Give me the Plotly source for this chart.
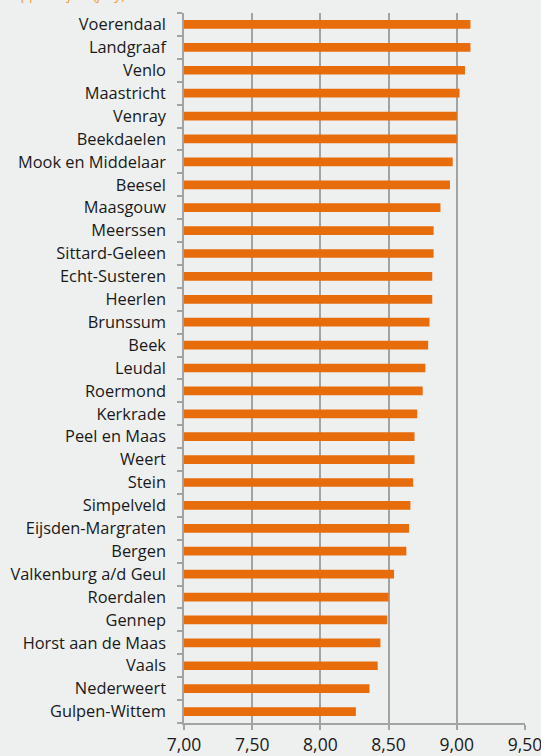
import plotly.graph_objects as go

gemeenten = [
    "Voerendaal", "Landgraaf", "Venlo", "Maastricht", "Venray", "Beekdaelen",
    "Mook en Middelaar", "Beesel", "Maasgouw", "Meerssen", "Sittard-Geleen",
    "Echt-Susteren", "Heerlen", "Brunssum", "Beek", "Leudal", "Roermond",
    "Kerkrade", "Peel en Maas", "Weert", "Stein", "Simpelveld",
    "Eijsden-Margraten", "Bergen", "Valkenburg a/d Geul", "Roerdalen",
    "Gennep", "Horst aan de Maas", "Vaals", "Nederweert", "Gulpen-Wittem",
]
scores = [
    9.10, 9.10, 9.06, 9.02, 9.00, 9.00,
    8.97, 8.95, 8.88, 8.83, 8.83,
    8.82, 8.82, 8.80, 8.79, 8.77, 8.75,
    8.71, 8.69, 8.69, 8.68, 8.66,
    8.65, 8.63, 8.54, 8.50,
    8.49, 8.44, 8.42, 8.36, 8.26,
]
x_ticks = [7.0, 7.5, 8.0, 8.5, 9.0, 9.5]
titel = "Rapportcijfer (jury)"

BG = "#EEF0EF"
ORANGE = "#E76C0B"
GRID = "#A3A3A3"

fig = go.Figure(
    go.Bar(
        x=scores,
        y=gemeenten,
        orientation="h",
        marker=dict(color=ORANGE, line=dict(width=0)),
        hoverinfo="skip",
    )
)

fig.update_layout(
    width=541,
    height=756,
    paper_bgcolor=BG,
    plot_bgcolor=BG,
    margin=dict(l=184, r=16, t=13, b=33, autoexpand=False),
    bargap=0.62,
    showlegend=False,
    separators=",.",
    font=dict(family="Open Sans", size=16, color="#1A1A1A"),
)

fig.update_xaxes(
    range=[7.0, 9.5],
    tickvals=x_ticks,
    tickformat=".2f",
    automargin=False,
    ticklabeloverflow="allow",
    showgrid=True,
    gridcolor=GRID,
    gridwidth=1.5,
    showline=True,
    linecolor=GRID,
    linewidth=1.5,
    ticks="outside",
    ticklen=5,
    tickcolor=GRID,
    tickwidth=1.5,
    ticklabelstandoff=0,
    zeroline=False,
    tickfont=dict(size=17.5),
)

fig.update_yaxes(
    categoryorder="array",
    categoryarray=gemeenten[::-1],
    automargin=False,
    showline=True,
    linecolor=GRID,
    linewidth=1.5,
    ticks="outside",
    tickson="boundaries",
    ticklen=5,
    tickcolor=GRID,
    tickwidth=1.5,
    ticklabelstandoff=13,
    showgrid=False,
    tickfont=dict(size=16.4),
)

fig.add_annotation(
    text=titel,
    xref="paper", yref="paper",
    x=-182 / 341, y=1 + 8 / 710,
    xanchor="left", yanchor="bottom",
    showarrow=False,
    font=dict(color="#F59A3E", size=14),
)

fig.write_html(
    "out.html",
    config={"displayModeBar": False},
    post_script="document.body.style.margin='0';document.body.style.background='#EEF0EF';",
)
